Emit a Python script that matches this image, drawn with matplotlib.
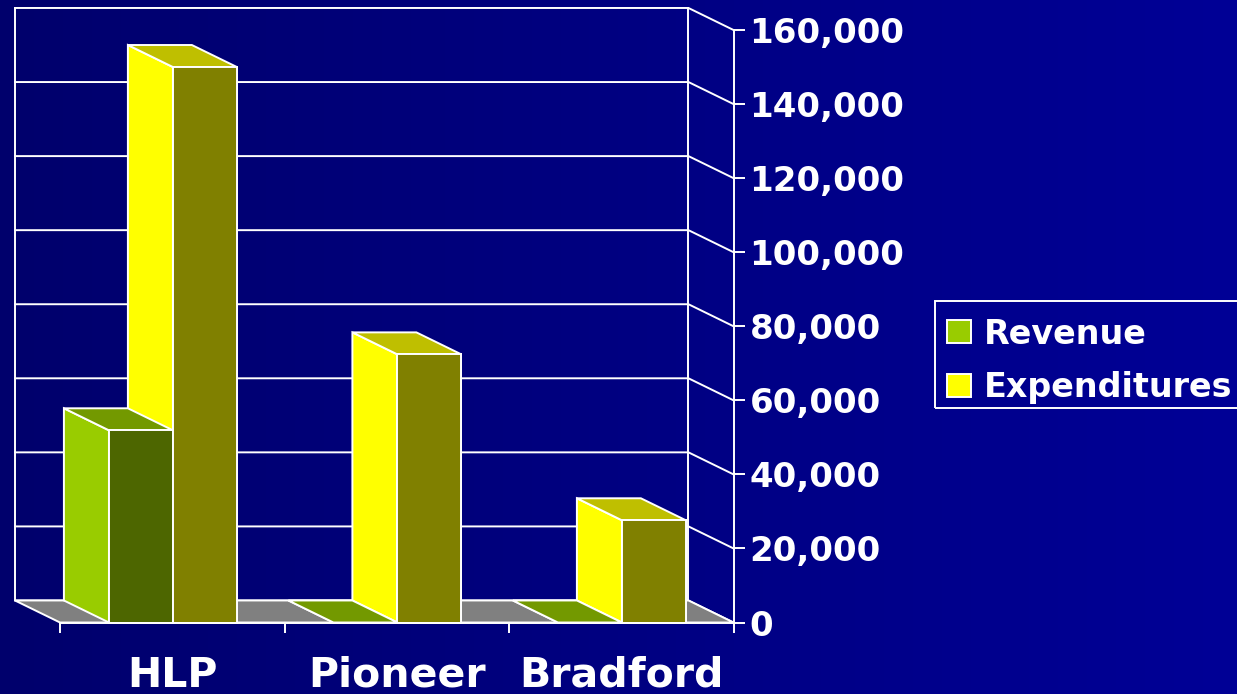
import numpy as np
import matplotlib.pyplot as plt
from matplotlib.colors import LinearSegmentedColormap
from matplotlib.patches import Patch, Polygon, Rectangle
from matplotlib.ticker import StrMethodFormatter

categories = ['HLP', 'Pioneer', 'Bradford']
revenue = [51900, 0, 0]
expenditures = [150000, 72400, 27600]
y_ticks = [0, 20000, 40000, 60000, 80000, 100000, 120000, 140000, 160000]

W, H = 1237, 694
# depth of the fake 3d box, in data units
DX = -45 / 224.33
DY = 22 * 160000 / 592
BAR_W = 0.285
CENTER = 0.503
LW = 1.4

plt.rcParams['font.family'] = ['DejaVu Sans']
plt.rcParams['font.weight'] = 'bold'

fig = plt.figure(figsize=(W / 100, H / 100), dpi=100)

bg = fig.add_axes([0, 0, 1, 1], zorder=0)
cmap = LinearSegmentedColormap.from_list('bg', ['#00006c', '#000096'])
bg.imshow(np.linspace(0, 1, 256).reshape(1, -1), cmap=cmap, aspect='auto')
bg.axis('off')

ax = fig.add_axes([60 / W, 1 - 622.5 / H, 673.5 / W, 592.5 / H], zorder=1)
ax.patch.set_visible(False)
ax.set_xlim(0, 3)
ax.set_ylim(0, 160000)

for s in ['left', 'top']:
    ax.spines[s].set_visible(False)
for s in ['right', 'bottom']:
    ax.spines[s].set_color('white')
    ax.spines[s].set_linewidth(LW)
    ax.spines[s].set_zorder(8)

# floor and walls
ax.add_patch(Polygon([(0, 0), (3, 0), (3 + DX, DY), (DX, DY)], closed=True, facecolor='#808080',
                     edgecolor='white', linewidth=LW, clip_on=False, zorder=2))
ax.plot([DX, DX], [DY, 160000 + DY], color='white', lw=LW, clip_on=False, zorder=1)
ax.plot([3 + DX, 3 + DX], [DY, 160000 + DY], color='white', lw=LW, clip_on=False, zorder=1)
for v in y_ticks:
    ax.plot([DX, 3 + DX, 3], [v + DY, v + DY, v], color='white', lw=LW, clip_on=False, zorder=1)


def draw_bar(left, value, front, side, top, z):
    right = left + BAR_W
    ax.add_patch(Polygon([(left, 0), (left, value), (left + DX, value + DY), (left + DX, DY)], closed=True,
                         facecolor=side, edgecolor='white', linewidth=LW, clip_on=False, zorder=z))
    ax.add_patch(Polygon([(left, value), (right, value), (right + DX, value + DY), (left + DX, value + DY)],
                         closed=True, facecolor=top, edgecolor='white', linewidth=LW, clip_on=False, zorder=z))
    ax.bar(left, value, width=BAR_W, align='edge', color=front, edgecolor='white', linewidth=LW,
           clip_on=False, zorder=z + 1)


for i in range(len(categories)):
    mid = i + CENTER
    draw_bar(mid, expenditures[i], '#808000', '#ffff00', '#bfbf00', 3)
    draw_bar(mid - BAR_W, revenue[i], '#4d6600', '#99cc00', '#739900', 4)
    # front of the expenditure bar sits on top of the revenue bar
    ax.bar(mid, expenditures[i], width=BAR_W, align='edge', color='#808000', edgecolor='white',
           linewidth=LW, clip_on=False, zorder=6)

ax.yaxis.tick_right()
ax.set_yticks(y_ticks)
ax.yaxis.set_major_formatter(StrMethodFormatter('{x:,.0f}'))
ax.tick_params(axis='y', colors='white', labelsize=24.5, length=8, width=LW, pad=3.5)

ax.set_xticks([0, 1, 2, 3])
ax.set_xticklabels([])
ax.set_xticks([0.5, 1.5, 2.5], minor=True)
ax.set_xticklabels(categories, minor=True)
ax.tick_params(axis='x', which='major', colors='white', length=7, width=LW)
ax.tick_params(axis='x', which='minor', colors='white', length=0, labelsize=29.5, pad=24)

# legend frame runs off the right edge, so it is drawn apart from the entries
fig.add_artist(Rectangle((935.5 / W, 1 - 408.5 / H), 310 / W, 107.5 / H, transform=fig.transFigure,
                         facecolor='none', edgecolor='white', linewidth=LW))
handles = [Patch(facecolor='#99cc00', edgecolor='white', linewidth=LW, label='Revenue'),
           Patch(facecolor='#ffff00', edgecolor='white', linewidth=LW, label='Expenditures')]
leg = fig.legend(handles=handles, loc='upper left', bbox_to_anchor=(947 / W, 1 - 317.5 / H), borderaxespad=0,
                 fontsize=24, frameon=False, handlelength=0.72, handleheight=0.68, handletextpad=0.38,
                 borderpad=0, labelspacing=0.63, labelcolor='white')

plt.savefig('out.png', dpi=100)
plt.close()
